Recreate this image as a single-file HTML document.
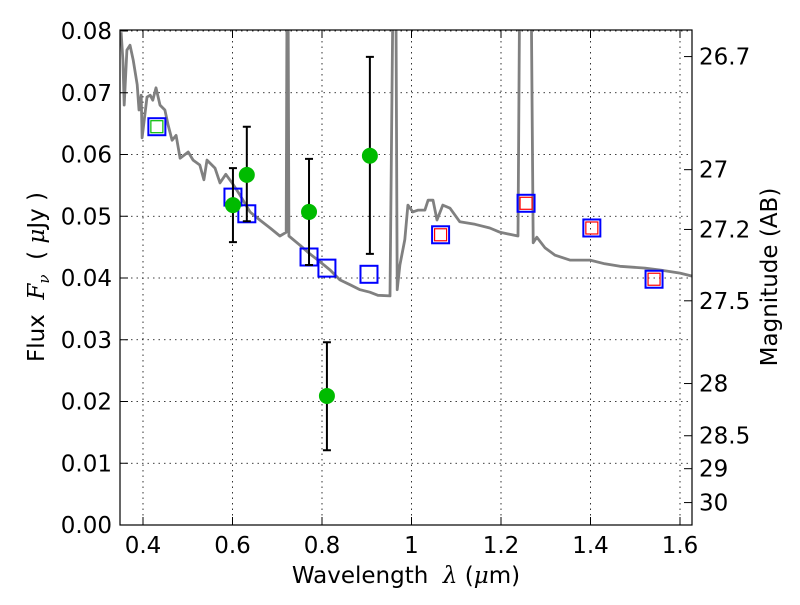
<!DOCTYPE html>
<html><head><meta charset="utf-8"><style>
body{margin:0;background:#fff}
svg text{font-family:"DejaVu Sans","Liberation Sans",sans-serif;font-size:23px;fill:#000}
.m{font-family:"DejaVu Serif","Liberation Serif",serif;font-style:italic}
</style></head><body>
<svg id="c" width="800" height="600" viewBox="0 0 800 600">
<defs><clipPath id="clip"><rect x="120" y="30" width="572" height="495"/></clipPath></defs>
<rect width="800" height="600" fill="#fff"/>
<g id="grid"></g>
<g id="spec" clip-path="url(#clip)"></g>
<g id="marks" clip-path="url(#clip)"></g>
<rect x="120" y="30" width="572" height="495" fill="none" stroke="#000" stroke-width="1.2"/>
<g id="axes"></g>
<text x="406" y="583" text-anchor="middle">Wavelength&#160;&#160;<tspan class="m">λ</tspan> (<tspan class="m">μ</tspan>m)</text>
<text transform="translate(44,277) rotate(-90)" text-anchor="middle">Flux&#160;&#160;<tspan class="m">F</tspan><tspan class="m" font-size="15" dy="5">ν</tspan><tspan dy="-5">&#160;&#160;( </tspan><tspan class="m">μ</tspan>Jy )</text>
<text transform="translate(777,277) rotate(-90)" text-anchor="middle">Magnitude (AB)</text>
</svg>
<script>
const specLam=[0.351,0.355,0.358,0.364,0.371,0.378,0.387,0.391,0.396,0.398,0.409,0.416,0.422,0.429,0.438,0.449,0.456,0.465,0.474,0.483,0.492,0.501,0.512,0.527,0.536,0.543,0.561,0.572,0.585,0.599,0.617,0.639,0.661,0.684,0.706,0.720,0.722,0.724,0.726,0.751,0.773,0.796,0.818,0.840,0.863,0.885,0.907,0.925,0.952,0.959,0.965,0.968,0.974,0.985,0.992,1.003,1.015,1.030,1.037,1.048,1.057,1.070,1.086,1.108,1.142,1.175,1.198,1.238,1.242,1.267,1.272,1.280,1.298,1.321,1.354,1.399,1.432,1.466,1.522,1.555,1.600,1.627];
const specFlux=[0.0798,0.0753,0.0680,0.0769,0.0777,0.0753,0.0713,0.0672,0.0696,0.0627,0.0693,0.0696,0.0688,0.0708,0.0680,0.0672,0.0648,0.0623,0.0631,0.0594,0.0599,0.0604,0.0591,0.0583,0.0559,0.0591,0.0578,0.0554,0.0568,0.0554,0.0534,0.0507,0.0494,0.0481,0.0468,0.0474,0.09,0.09,0.0468,0.0453,0.0439,0.0426,0.0413,0.0397,0.0389,0.0381,0.0377,0.0372,0.0371,0.09,0.09,0.0381,0.0421,0.0462,0.0518,0.0507,0.0510,0.0510,0.0526,0.0526,0.0494,0.0518,0.0513,0.0491,0.0487,0.0481,0.0474,0.0468,0.09,0.09,0.0457,0.0466,0.0449,0.0437,0.0429,0.0429,0.0423,0.0419,0.0416,0.0413,0.0408,0.0403];
const obsLam=[0.601,0.632,0.771,0.811,0.907];
const obsFlux=[0.0518,0.0567,0.0507,0.0209,0.0598];
const obsLo=[0.0458,0.0492,0.0421,0.0121,0.0439];
const obsHi=[0.0578,0.0645,0.0593,0.0296,0.0758];
const modLam=[0.431,0.601,0.632,0.771,0.811,0.905,1.065,1.256,1.403,1.542];
const modFlux=[0.0645,0.0531,0.0504,0.0434,0.0416,0.0406,0.0470,0.0521,0.0481,0.0398];
const modInner=['green','none','none','none','none','none','red','red','red','red'];
const xTicks=[0.4,0.6,0.8,1.0,1.2,1.4,1.6];
const xTickLabels=['0.4','0.6','0.8','1','1.2','1.4','1.6'];
const yTicks=[0,0.01,0.02,0.03,0.04,0.05,0.06,0.07,0.08];
const yTickLabels=['0.00','0.01','0.02','0.03','0.04','0.05','0.06','0.07','0.08'];
const magTicks=[26.7,27,27.2,27.5,28,28.5,29,30];
const magLabels=['26.7','27','27.2','27.5','28','28.5','29','30'];

const NS='http://www.w3.org/2000/svg';
const X=l=>143+(l-0.4)*447.5;
const Y=f=>525-f*6175;
function mk(p,t,a){const e=document.createElementNS(NS,t);for(const k in a)e.setAttribute(k,a[k]);p.appendChild(e);return e;}
const G=document.getElementById('grid'),S=document.getElementById('spec'),M=document.getElementById('marks'),A=document.getElementById('axes');

xTicks.forEach((v,i)=>{const x=X(v);
 let g=mk(G,'line',{x1:x,x2:x,y1:30,y2:525,stroke:'#000','stroke-dasharray':'1.5,4','stroke-width':0.8});
 
 
 mk(A,'line',{x1:x,x2:x,y1:525,y2:517,stroke:'#000'});
 mk(A,'line',{x1:x,x2:x,y1:30,y2:38,stroke:'#000'});
 let t=mk(A,'text',{x:x,y:553,'text-anchor':'middle'});t.textContent=xTickLabels[i];
 
 
});
yTicks.forEach((v,i)=>{const y=Y(v);
 let g=mk(G,'line',{x1:120,x2:692,y1:y,y2:y,stroke:'#000','stroke-dasharray':'1.5,4','stroke-width':0.8});
 
 
 mk(A,'line',{x1:120,x2:128,y1:y,y2:y,stroke:'#000'});
 let t=mk(A,'text',{x:112,y:y+8,'text-anchor':'end'});t.textContent=yTickLabels[i];
 
 
});
magTicks.forEach((m,i)=>{const f=Math.pow(10,(23.9-m)/2.5);const y=Y(f);
 mk(A,'line',{x1:692,x2:684,y1:y,y2:y,stroke:'#000'});
 let t=mk(A,'text',{x:699,y:y+8});t.textContent=magLabels[i];
 
 
});
let d=specLam.map((l,i)=>(i?'L':'M')+X(l).toFixed(1)+' '+Y(specFlux[i]).toFixed(1)).join(' ');
let sp=mk(S,'path',{d:d,fill:'none',stroke:'#808080','stroke-width':2.8,'stroke-linejoin':'round'});


modLam.forEach((l,i)=>{const x=X(l),y=Y(modFlux[i]);
 let r=mk(M,'rect',{x:x-8.5,y:y-8.5,width:17,height:17,fill:'none',stroke:'#0000ff','stroke-width':2});
 
 
 if(modInner[i]!=='none'){let q=mk(M,'rect',{x:x-6,y:y-6,width:12,height:12,fill:'none',stroke:modInner[i]==='green'?'#00bb00':'#ff0000','stroke-width':1.2});
 
 }
});
obsLam.forEach((l,i)=>{const x=X(l);
 let e=mk(M,'path',{d:`M${x} ${Y(obsLo[i])}L${x} ${Y(obsHi[i])}M${x-4} ${Y(obsLo[i])}L${x+4} ${Y(obsLo[i])}M${x-4} ${Y(obsHi[i])}L${x+4} ${Y(obsHi[i])}`,stroke:'#000','stroke-width':2,fill:'none'});
 
 
 let c=mk(M,'circle',{cx:x,cy:Y(obsFlux[i]),r:8,fill:'#00bb00'});
 
 
});
</script>
</body></html>
